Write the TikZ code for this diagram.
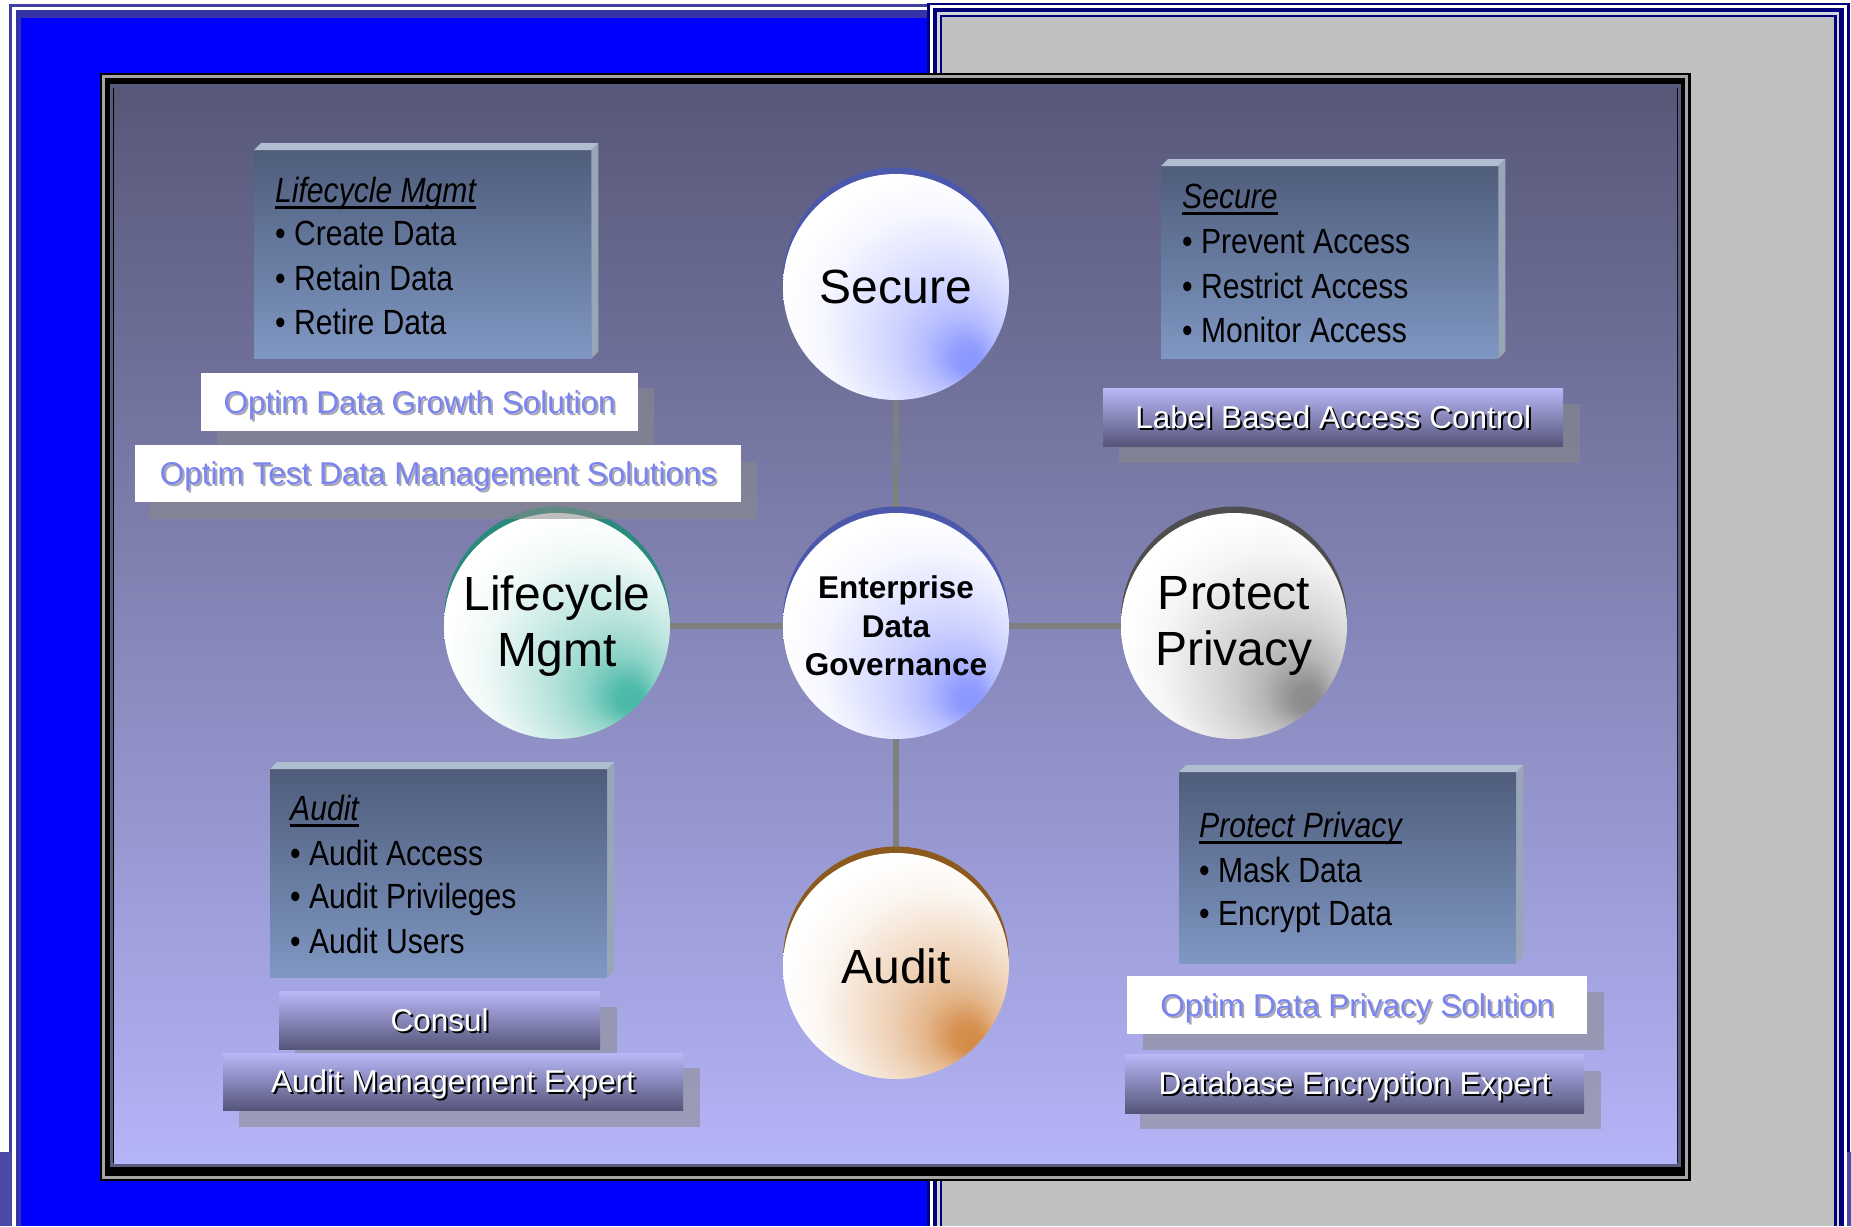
\documentclass[tikz,border=0pt]{standalone}
\usepackage{fontspec}
\setmainfont{Liberation Sans}
\newfontfamily\narrowfont[FakeStretch=0.86]{Liberation Sans}
\usetikzlibrary{calc}

\definecolor{bpline}{HTML}{4040A4}
\definecolor{bpband}{HTML}{3434A8}
\definecolor{bluepanel}{HTML}{0000FF}
\definecolor{navyline}{HTML}{000078}
\definecolor{graylight}{HTML}{D4D4DC}
\definecolor{graypanel}{HTML}{C0C0C0}
\definecolor{slatecorner}{HTML}{4A4AA6}
\definecolor{framegray}{HTML}{A4A4A4}
\definecolor{frameslate}{HTML}{5A5A7E}
\definecolor{bgtop}{HTML}{575878}
\definecolor{bgbot}{HTML}{B4B4F8}
\definecolor{boxtop}{HTML}{4F5D7B}
\definecolor{boxbot}{HTML}{7F97C3}
\definecolor{bevtop}{HTML}{B0BED2}
\definecolor{bevside}{HTML}{98A6B8}
\definecolor{labtop}{HTML}{B8B8F8}
\definecolor{labmid}{HTML}{8A8AC4}
\definecolor{labbot}{HTML}{55557A}
\definecolor{shadowgray}{HTML}{8A8A8A}
\definecolor{optimtext}{HTML}{7A84F0}
\definecolor{optimshadow}{HTML}{A8A8B4}
\definecolor{conn}{HTML}{7F7F7F}
\definecolor{secC}{HTML}{8A96FF}
\definecolor{secR}{HTML}{4C58AC}
\definecolor{lifC}{HTML}{48B8A6}
\definecolor{lifR}{HTML}{2A8A7C}
\definecolor{proC}{HTML}{8A8A8A}
\definecolor{proR}{HTML}{4E4E4E}
\definecolor{audC}{HTML}{D48A46}
\definecolor{audR}{HTML}{8C5A1C}

\pgfdeclareradialshading{sphSec}{\pgfpoint{17bp}{-17bp}}{color(0bp)=(secC); color(3bp)=(secC!95!white); color(8bp)=(secC!62!white); color(13bp)=(secC!42!white); color(18bp)=(secC!27!white); color(25bp)=(secC!8!white); color(31bp)=(white); color(50bp)=(white)}
\pgfdeclareradialshading{sphLif}{\pgfpoint{17bp}{-17bp}}{color(0bp)=(lifC); color(3bp)=(lifC!95!white); color(8bp)=(lifC!62!white); color(13bp)=(lifC!42!white); color(18bp)=(lifC!27!white); color(25bp)=(lifC!8!white); color(31bp)=(white); color(50bp)=(white)}
\pgfdeclareradialshading{sphPro}{\pgfpoint{17bp}{-17bp}}{color(0bp)=(proC); color(3bp)=(proC!95!white); color(8bp)=(proC!62!white); color(13bp)=(proC!42!white); color(18bp)=(proC!27!white); color(25bp)=(proC!8!white); color(31bp)=(white); color(50bp)=(white)}
\pgfdeclareradialshading{sphAud}{\pgfpoint{17bp}{-17bp}}{color(0bp)=(audC); color(3bp)=(audC!95!white); color(8bp)=(audC!62!white); color(13bp)=(audC!42!white); color(18bp)=(audC!27!white); color(25bp)=(audC!8!white); color(31bp)=(white); color(50bp)=(white)}

\pgfdeclarelayer{back}
\pgfdeclarelayer{mid}
\pgfsetlayers{back,mid,main}

\tikzset{
  sphere/.style={circle, minimum size=226pt, inner sep=0pt, shade, shading=#1, align=center,
    font=\fontsize{48}{56}\selectfont},
  rim/.style={preaction={fill=#1, transform canvas={yshift=6.5pt}}},
  connector/.style={draw=conn, line width=5.5pt},
  infobox/.style={shade, top color=boxtop, bottom color=boxbot, inner sep=0pt, anchor=north west},
  bevtopst/.style={fill=bevtop},
  bevsidest/.style={fill=bevside},
  boxtext/.style={anchor=base west, inner sep=0pt, text=black,
    font=\narrowfont\fontsize{35}{42}\selectfont},
  boxhead/.style={anchor=base west, inner sep=0pt, text=black,
    font=\narrowfont\itshape\fontsize{35}{42}\selectfont},
  uline/.style={line width=3pt, black},
  shadowbox/.style={fill=shadowgray, fill opacity=0.55, inner sep=0pt, anchor=north west},
  whitebox/.style={fill=white, inner sep=0pt, anchor=north west},
  labbox/.style={shade, top color=labtop, middle color=labmid, bottom color=labbot, inner sep=0pt, anchor=north west},
  labfont/.style={inner sep=0pt, text height=22.5pt, text depth=0pt, font=\fontsize{31.5}{36}\selectfont},
  labtext/.style={labfont, text=white},
  labshadow/.style={labfont, text=black},
  optext/.style={labfont, text=optimtext},
  opshadow/.style={labfont, text=optimshadow},
}

\begin{document}
\begin{tikzpicture}[x=1pt, y=-1pt]
\useasboundingbox (0,0) rectangle (1851,1226);

\begin{pgfonlayer}{back}
  \fill[white] (0,0) rectangle (1851,1226);
  % blue panel
  \fill[bpline] (9,4) rectangle (929,1226);
  \fill[white] (11.5,6.7) rectangle (929,1226);
  \fill[bpband] (16,9.5) rectangle (929,1226);
  \fill[bluepanel] (21,18) rectangle (929,1226);
  \fill[slatecorner] (0,1152) rectangle (12,1226);
  % gray panel
  \fill[navyline] (927,2.7) rectangle (1850,1226);
  \fill[white] (930,4.7) rectangle (1846.7,1226);
  \fill[navyline] (933,8) rectangle (1844.3,1226);
  \fill[graylight] (937,12.3) rectangle (1839.3,1226);
  \fill[navyline] (939.5,15) rectangle (1836.7,1226);
  \fill[graypanel] (942,17.3) rectangle (1834.3,1226);
  \fill[slatecorner] (1846.7,1152) rectangle (1851,1226);
  % inner frame
  \fill[black] (100,72.5) rectangle (1691,1181);
  \draw[framegray, line width=3pt] (103.5,76.5) rectangle (1686.5,1177.5);
  \draw[frameslate, line width=3.5pt] (111.5,86) rectangle (1679.5,1165);
  \shade[top color=bgtop, bottom color=bgbot] (114,88) rectangle (1677,1163.5);
\end{pgfonlayer}

% ---------- spheres ----------
\node[sphere=sphSec, rim=secR] (sec) at (896,287) {Secure};
\node[sphere=sphSec, rim=secR, font=\bfseries\fontsize{31.5}{38.5}\selectfont] (edg) at (896,626) {Enterprise\\Data\\Governance};
\node[sphere=sphLif, rim=lifR] (lif) at (557,626) {Lifecycle\\Mgmt};
\node[sphere=sphPro, rim=proR] (pro) at (1234,626) {Protect\\Privacy};
\node[sphere=sphAud, rim=audR] (aud) at (896,966) {Audit};

\begin{pgfonlayer}{mid}
  \draw[connector] (sec) -- (edg);
  \draw[connector] (edg) -- (aud);
  \draw[connector] (lif) -- (edg);
  \draw[connector] (edg) -- (pro);
\end{pgfonlayer}

% ---------- Lifecycle box ----------
\node[infobox, minimum width=337pt, minimum height=208pt] (lcbox) at (254,150) {};
\fill[bevtopst] (lcbox.north west) -- ++(7,-7) -- ($(lcbox.north east)+(7,-7)$) -- (lcbox.north east) -- cycle;
\fill[bevsidest] (lcbox.north east) -- ++(7,-7) -- ($(lcbox.south east)+(7,-7)$) -- (lcbox.south east) -- cycle;
\node[boxhead] (lch) at (275,202) {Lifecycle Mgmt};
\draw[uline] ($(lch.base west)+(0,5)$) -- ($(lch.base east)+(0,5)$);
\node[boxtext] (lc1) at (275,245) {• Create Data};
\node[boxtext] (lc2) at (275,290) {• Retain Data};
\node[boxtext] (lc3) at (275,334) {• Retire Data};

% ---------- Secure box ----------
\node[infobox, minimum width=337pt, minimum height=192pt] (scbox) at (1161,166) {};
\fill[bevtopst] (scbox.north west) -- ++(7,-7) -- ($(scbox.north east)+(7,-7)$) -- (scbox.north east) -- cycle;
\fill[bevsidest] (scbox.north east) -- ++(7,-7) -- ($(scbox.south east)+(7,-7)$) -- (scbox.south east) -- cycle;
\node[boxhead] (sch) at (1182,208) {Secure};
\draw[uline] ($(sch.base west)+(0,5)$) -- ($(sch.base east)+(0,5)$);
\node[boxtext] (sc1) at (1182,253) {• Prevent Access};
\node[boxtext] (sc2) at (1182,298) {• Restrict Access};
\node[boxtext] (sc3) at (1182,342) {• Monitor Access};

% ---------- Audit box ----------
\node[infobox, minimum width=337pt, minimum height=208pt] (aubox) at (270,769) {};
\fill[bevtopst] (aubox.north west) -- ++(7,-7) -- ($(aubox.north east)+(7,-7)$) -- (aubox.north east) -- cycle;
\fill[bevsidest] (aubox.north east) -- ++(7,-7) -- ($(aubox.south east)+(7,-7)$) -- (aubox.south east) -- cycle;
\node[boxhead] (auh) at (290,820) {Audit};
\draw[uline] ($(auh.base west)+(0,5)$) -- ($(auh.base east)+(0,5)$);
\node[boxtext] (au1) at (290,865) {• Audit Access};
\node[boxtext] (au2) at (290,908) {• Audit Privileges};
\node[boxtext] (au3) at (290,953) {• Audit Users};

% ---------- Protect Privacy box ----------
\node[infobox, minimum width=337pt, minimum height=191pt] (ppbox) at (1179,772) {};
\fill[bevtopst] (ppbox.north west) -- ++(7,-7) -- ($(ppbox.north east)+(7,-7)$) -- (ppbox.north east) -- cycle;
\fill[bevsidest] (ppbox.north east) -- ++(7,-7) -- ($(ppbox.south east)+(7,-7)$) -- (ppbox.south east) -- cycle;
\node[boxhead] (pph) at (1199,837) {Protect Privacy};
\draw[uline] ($(pph.base west)+(0,5)$) -- ($(pph.base east)+(0,5)$);
\node[boxtext] (pp1) at (1199,882) {• Mask Data};
\node[boxtext] (pp2) at (1199,925) {• Encrypt Data};

% ---------- white solution boxes ----------
\node[shadowbox, minimum width=437pt, minimum height=59pt] (odgsS) at (217,388) {};
\node[whitebox, minimum width=437pt, minimum height=58pt] (odgs) at (201,373) {};
\node[opshadow] (odgsTs) at ($(odgs.center)+(2,2)$) {Optim Data Growth Solution};
\node[optext] (odgsT) at (odgs.center) {Optim Data Growth Solution};

\node[shadowbox, minimum width=608pt, minimum height=57pt] (otdmS) at (149,462) {};
\node[whitebox, minimum width=606pt, minimum height=57pt] (otdm) at (135,445) {};
\node[opshadow] (otdmTs) at ($(otdm.center)+(2,2)$) {Optim Test Data Management Solutions};
\node[optext] (otdmT) at (otdm.center) {Optim Test Data Management Solutions};

\node[shadowbox, minimum width=461pt, minimum height=58pt] (odpsS) at (1143,992) {};
\node[whitebox, minimum width=460pt, minimum height=58pt] (odps) at (1127,976) {};
\node[opshadow] (odpsTs) at ($(odps.center)+(2,2)$) {Optim Data Privacy Solution};
\node[optext] (odpsT) at (odps.center) {Optim Data Privacy Solution};

% ---------- gradient product labels ----------
\node[shadowbox, minimum width=461pt, minimum height=59pt] (lbacS) at (1119,404) {};
\node[labbox, minimum width=460pt, minimum height=58pt] (lbac) at (1103,388) {};
\node[labshadow] (lbacTs) at ($(lbac.center)+(2,2)$) {Label Based Access Control};
\node[labtext] (lbacT) at (lbac.center) {Label Based Access Control};

\node[shadowbox, minimum width=322pt, minimum height=58pt] (consS) at (295,1007) {};
\node[labbox, minimum width=321pt, minimum height=58pt] (cons) at (279,991) {};
\node[labshadow] (consTs) at ($(cons.center)+(2,2)$) {Consul};
\node[labtext] (consT) at (cons.center) {Consul};

\node[shadowbox, minimum width=461pt, minimum height=59pt] (ameS) at (239,1068) {};
\node[labbox, minimum width=460pt, minimum height=57pt] (ame) at (223,1053) {};
\node[labshadow] (ameTs) at ($(ame.center)+(2,2)$) {Audit Management Expert};
\node[labtext] (ameT) at (ame.center) {Audit Management Expert};

\node[shadowbox, minimum width=461pt, minimum height=58pt] (deeS) at (1140,1071) {};
\node[labbox, minimum width=459pt, minimum height=59pt] (dee) at (1125,1054) {};
\node[labshadow] (deeTs) at ($(dee.center)+(2,2)$) {Database Encryption Expert};
\node[labtext] (deeT) at (dee.center) {Database Encryption Expert};

\end{tikzpicture}
\end{document}
